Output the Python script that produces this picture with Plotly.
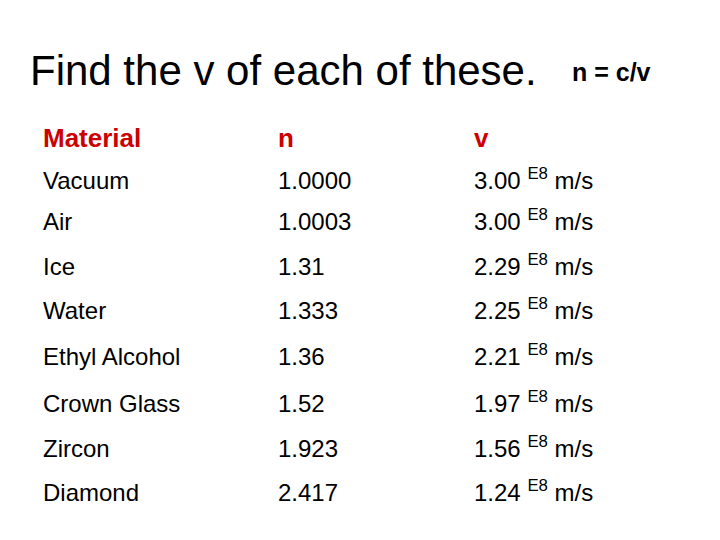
import plotly.graph_objects as go

headers = ["<b>Material</b>", "<b>n</b>", "<b>v</b>"]
materials = ["Vacuum", "Air", "Ice", "Water", "Ethyl Alcohol", "Crown Glass", "Zircon", "Diamond"]
n_values = ["1.0000", "1.0003", "1.31", "1.333", "1.36", "1.52", "1.923", "2.417"]
v_values = ["3.00", "3.00", "2.29", "2.25", "2.21", "1.97", "1.56", "1.24"]

col_x = [35, 270, 466]
row_y = [175, 216, 261, 305, 351, 398, 443, 487]
font = "Liberation Sans, Arial, sans-serif"

fig = go.Figure()
fig.add_trace(go.Scatter(x=col_x, y=[132]*3, text=headers, mode="text",
                         textposition="middle right",
                         textfont=dict(family=font, size=26, color="#cc0000")))
for i, col in enumerate([materials, n_values, [v + " <sup>E8</sup> m/s" for v in v_values]]):
    fig.add_trace(go.Scatter(x=[col_x[i]]*len(col), y=row_y, text=col, mode="text",
                             textposition="middle right",
                             textfont=dict(family=font, size=24, color="black")))
fig.add_annotation(x=20, y=62, xref="x", yref="y", text="Find the v of each of these.",
                   showarrow=False, xanchor="left", yanchor="middle",
                   font=dict(family=font, size=42, color="black"))
fig.add_annotation(x=562, y=64, xref="x", yref="y", text="<b>n = c/v</b>",
                   showarrow=False, xanchor="left", yanchor="middle",
                   font=dict(family=font, size=25, color="black"))
fig.update_layout(width=720, height=540, margin=dict(l=0, r=0, t=0, b=0),
                  plot_bgcolor="white", paper_bgcolor="white", showlegend=False,
                  xaxis=dict(range=[0, 720], visible=False),
                  yaxis=dict(range=[540, 0], visible=False))
fig.write_html("out.html")
